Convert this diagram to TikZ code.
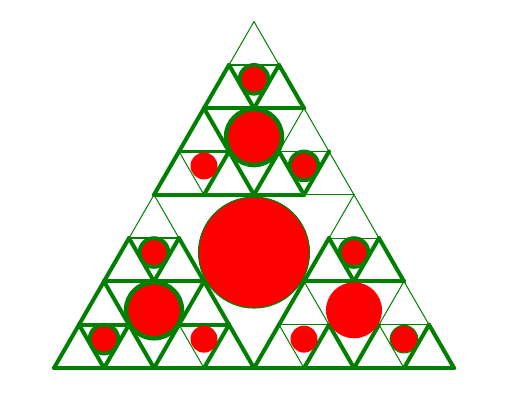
\documentclass[tikz,border=0pt]{standalone}
\usepackage{tikz}
\definecolor{gr}{RGB}{0,128,0}
\definecolor{rd}{RGB}{255,0,0}
\tikzset{
  thinline/.style={draw=gr,line width=1pt,line cap=round},
  medline/.style={draw=gr,line width=2.4pt,line cap=round},
  thickline/.style={draw=gr,line width=4pt,line cap=round},
  disc/.style={fill=rd},
  ringthick/.style={draw=gr,line width=3.8pt},
  ringthin/.style={draw=gr,line width=1.1pt}
}
% segment n of the level-2 triangle whose lower-left lattice point is (a,b)
\newcommand\trseg[4]{%
  \pgfmathtruncatemacro\ai{#1+1}%
  \pgfmathtruncatemacro\aii{#1+2}%
  \pgfmathtruncatemacro\bi{#2+1}%
  \pgfmathtruncatemacro\bii{#2+2}%
  \ifcase#3 \or
    \draw[#4] (p#1-\bii) -- (p#1-\bi);\or
    \draw[#4] (p#1-\bi) -- (p#1-#2);\or
    \draw[#4] (p#1-\bii) -- (p\ai-\bi);\or
    \draw[#4] (p\ai-\bi) -- (p\aii-#2);\or
    \draw[#4] (p#1-#2) -- (p\ai-#2);\or
    \draw[#4] (p\ai-#2) -- (p\aii-#2);\or
    \draw[#4] (p#1-\bi) -- (p\ai-\bi);\or
    \draw[#4] (p#1-\bi) -- (p\ai-#2);\or
    \draw[#4] (p\ai-\bi) -- (p\ai-#2);\fi}
\begin{document}
\begin{tikzpicture}[x=1pt,y=-1pt]
\fill[white] (0,0) rectangle (530,402);
\useasboundingbox (0,0) rectangle (530,402);
% lattice points
\foreach \j in {0,...,8}{%
  \pgfmathtruncatemacro\imax{8-\j}%
  \foreach \i in {0,...,\imax}{%
    \coordinate (p\i-\j) at ({54+50*\i+25*\j},{368-43.301*\j});
  }%
}
% thin segments
\foreach \a/\b/\n in {0/6/1,0/6/3, 0/4/8, 2/4/1,2/4/3,2/4/4,2/4/6,2/4/7,
  0/2/1,0/2/3, 2/0/8, 4/2/1,4/2/3,4/2/7, 4/0/3,4/0/7,4/0/8,
  6/0/1,6/0/3,6/0/7,6/0/8}{\trseg{\a}{\b}{\n}{thinline}}
% medium segments
\foreach \a/\b/\n in {0/6/7, 0/4/7, 0/2/7}{\trseg{\a}{\b}{\n}{medline}}
% thick segments
\foreach \a/\b/\n in {0/6/2,0/6/4,0/6/5,0/6/6,0/6/8,0/6/9,
  0/4/1,0/4/2,0/4/3,0/4/4,0/4/5,0/4/6,0/4/9,
  2/4/2,2/4/5,2/4/8,2/4/9,
  0/2/2,0/2/4,0/2/5,0/2/6,0/2/8,0/2/9,
  0/0/1,0/0/2,0/0/3,0/0/4,0/0/5,0/0/6,0/0/7,0/0/8,0/0/9,
  2/0/1,2/0/2,2/0/3,2/0/4,2/0/5,2/0/6,2/0/7,2/0/9,
  4/2/2,4/2/4,4/2/5,4/2/6,4/2/8,4/2/9,
  4/0/1,4/0/2,4/0/4,4/0/5,4/0/6,4/0/9,
  6/0/2,6/0/4,6/0/5,6/0/6,6/0/9}{\trseg{\a}{\b}{\n}{thickline}}
% circle centres
\coordinate (cBig) at (254,252.53);
\coordinate (cT) at (254,137.06);
\coordinate (cL) at (154,310.27);
\coordinate (cR) at (354,310.27);
\coordinate (cTT) at (254,79.33);
\coordinate (cTL) at (204,165.93);
\coordinate (cTR) at (304,165.93);
\coordinate (cLT) at (154,252.53);
\coordinate (cLL) at (104,339.13);
\coordinate (cLR) at (204,339.13);
\coordinate (cRT) at (354,252.53);
\coordinate (cRL) at (304,339.13);
\coordinate (cRR) at (404,339.13);
% big circle
\fill[disc] (cBig) circle[radius=55.5];
\draw[ringthin] (cBig) circle[radius=55.5];
% level-2 circles
\foreach \c in {cT,cL,cR}{\fill[disc] (\c) circle[radius=28];}
\foreach \c in {cT,cL}{\draw[ringthick,line width=4.5pt] (\c) circle[radius=28];}
% level-3 circles
\foreach \c in {cTT,cTL,cTR,cLT,cLL,cLR,cRT,cRL,cRR}{\fill[disc] (\c) circle[radius=13.5];}
\foreach \c in {cTT,cTR,cLT,cLL,cRT}{\draw[ringthick] (\c) circle[radius=14.4];}
\draw[ringthin] (cRR) circle[radius=13.8];
\end{tikzpicture}
\end{document}
